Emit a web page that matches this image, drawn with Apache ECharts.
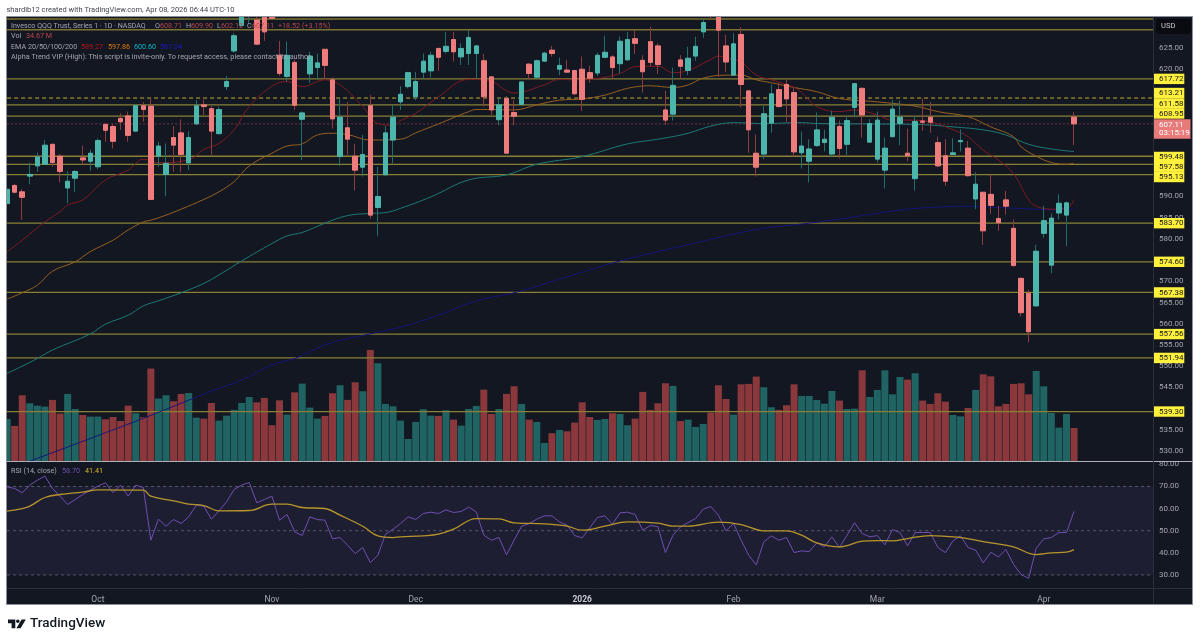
<!DOCTYPE html>
<html>
<head>
<meta charset="utf-8">
<title>QQQ 1D</title>
<script src="https://cdn.jsdelivr.net/npm/echarts@6/dist/echarts.min.js"></script>
<style>
html,body{margin:0;padding:0;background:#fff}
#main{width:1200px;height:642px}
</style>
</head>
<body>
<div id="main"></div>
<script>
// daily bars, Sep 2025 -> Apr 08 2026
var opens = [
588.3,592.6,591.1,594.8,597.2,597.6,602.3,599.5,592.0,594.3,
599.1,598.3,597.0,607.0,606.5,608.4,609.0,605.4,611.4,611.3,
599.5,595.2,603.9,605.0,597.9,607.1,611.6,610.7,604.8,615.9,
624.3,630.3,632.4,631.6,633.2,634.0,623.3,618.3,621.6,608.2,
618.9,620.4,624.7,617.5,599.4,606.2,599.5,596.9,611.4,587.4,
595.1,603.3,612.3,615.9,613.5,619.3,619.6,624.9,624.2,627.0,
622.9,623.7,623.7,622.0,618.2,608.1,613.1,609.8,611.7,621.2,
618.1,621.9,624.5,620.0,619.8,619.7,620.0,619.2,619.1,622.8,
622.9,621.3,622.2,627.2,622.1,626.5,625.5,610.4,609.4,622.2,
619.7,623.1,628.8,636.5,635.0,625.5,618.6,628.2,614.9,600.2,
600.0,607.3,615.2,616.4,614.5,600.3,598.3,602.0,602.7,600.0,
606.5,602.3,611.0,615.5,602.8,598.8,596.2,604.1,607.2,600.2,
594.2,607.8,608.7,602.7,599.6,599.9,602.9,601.4,589.4,591.0,
590.5,584.8,589.2,582.5,570.7,567.2,564.2,581.3,573.8,586.1,
585.6,608.71];
var closes = [
591.7,591.0,589.8,595.2,599.3,602.1,598.0,595.9,593.6,595.9,
598.6,600.2,603.2,605.6,603.0,607.6,604.4,611.4,610.5,589.3,
601.9,597.8,602.1,599.9,603.9,611.4,611.2,605.4,610.5,617.1,
627.9,634.0,634.0,625.9,628.8,632.0,619.0,623.3,611.5,609.7,
623.1,621.5,620.9,608.3,608.7,603.5,596.2,599.9,585.6,590.0,
605.0,608.7,614.1,619.2,617.1,621.9,623.3,622.8,625.4,624.1,
624.9,627.5,625.5,613.5,610.4,611.6,600.2,608.9,617.0,619.0,
622.0,623.8,623.7,620.9,619.3,614.2,612.9,617.9,623.3,624.0,
620.4,626.6,627.0,626.1,619.4,621.6,621.1,608.0,616.2,620.7,
622.6,625.4,631.0,634.0,629.2,621.7,626.0,616.4,605.7,596.9,
609.5,614.2,611.2,613.0,600.5,601.9,601.2,605.7,603.5,608.7,
601.3,607.9,616.6,609.2,607.2,608.0,601.4,610.6,608.7,599.6,
607.7,607.5,607.5,597.2,593.6,600.3,603.2,594.9,592.9,581.9,
587.9,583.8,587.7,573.7,562.6,558.1,577.1,584.3,584.9,588.4,
588.5,607.11];
var highs = [
592.3,592.9,591.7,598.0,600.3,603.3,602.5,600.0,596.0,596.2,
602.0,601.0,603.7,607.2,607.2,609.6,610.0,611.8,612.3,613.1,
602.9,602.5,606.6,608.2,605.4,612.7,612.9,611.3,611.2,618.4,
628.5,634.7,635.5,632.8,634.0,634.7,626.7,626.5,622.2,610.0,
624.1,623.7,624.7,618.1,613.1,612.3,602.4,604.5,613.9,597.0,
606.6,611.6,616.0,619.4,619.4,623.7,624.1,625.1,628.8,628.8,
626.1,629.2,625.7,623.6,618.4,613.4,613.7,612.7,617.1,621.4,
622.3,624.1,625.5,622.7,622.2,619.8,623.0,620.8,623.9,627.9,
623.3,627.7,628.8,629.2,623.3,630.0,626.1,614.9,620.4,623.3,
625.3,627.7,631.8,637.0,637.0,628.1,628.5,629.9,614.9,604.6,
611.3,616.4,616.8,617.5,615.7,605.3,603.5,609.8,605.7,610.2,
607.9,609.0,616.7,615.7,608.2,610.0,603.9,612.7,612.6,606.0,
609.0,613.1,612.3,604.1,603.5,603.7,605.8,603.1,595.7,591.0,
595.1,587.8,591.3,584.6,570.9,568.0,578.6,587.8,586.0,590.5,
588.8,609.90];
var lows = [
588.0,590.7,584.5,592.9,595.8,597.4,597.0,593.3,588.4,591.0,
597.4,596.1,596.4,602.9,601.3,605.7,602.9,605.2,607.6,589.2,
597.0,590.1,595.8,595.7,596.2,606.9,609.2,599.8,604.6,615.1,
623.9,630.0,630.7,625.7,626.7,631.6,618.4,617.1,610.4,598.6,
616.8,617.6,617.8,606.0,597.2,599.8,591.4,594.7,584.8,580.7,
595.0,597.8,610.4,615.5,612.7,617.8,618.1,619.6,623.7,621.8,
621.0,621.0,617.8,611.2,609.2,606.8,600.2,606.8,611.6,617.5,
617.8,621.7,623.0,618.6,619.2,613.9,610.2,616.8,618.4,622.6,
617.7,619.0,622.0,623.6,614.5,620.6,618.9,606.9,607.9,617.8,
618.6,622.0,627.4,631.9,618.2,619.3,618.4,611.0,600.3,594.7,
598.8,605.0,611.0,607.6,599.4,596.6,593.3,601.7,600.6,599.2,
599.0,599.8,608.7,603.9,602.7,598.0,591.9,603.9,602.1,598.3,
591.4,605.5,605.0,597.0,592.5,599.8,600.6,594.7,587.0,578.6,
585.9,581.9,585.7,573.5,561.7,555.6,564.0,580.3,571.9,584.6,
578.3,602.12];
var volumes = [
44.1,36.8,69.0,60.6,58.1,57.1,64.1,49.7,70.4,54.6,
48.3,46.6,46.6,43.8,46.2,42.0,58.1,50.1,45.9,97.0,
65.5,69.0,62.7,70.4,71.4,45.5,44.5,60.9,42.4,47.6,
53.6,60.9,67.2,61.6,66.2,37.5,63.7,48.7,72.1,81.2,
56.0,44.5,47.3,71.1,79.5,64.1,82.6,73.2,116.6,102.6,
59.9,57.4,42.4,23.1,41.0,54.3,47.6,47.3,53.2,43.4,
37.1,54.6,57.8,74.9,49.4,54.6,70.4,78.4,59.9,43.4,
41.0,18.9,29.1,32.6,31.2,40.3,61.6,46.2,43.1,44.1,
50.1,49.4,37.5,44.5,72.5,53.6,60.6,81.6,78.8,42.0,
43.4,35.7,38.9,50.8,79.5,65.1,48.7,80.5,80.9,88.6,
77.4,56.4,53.6,58.5,80.5,68.3,68.3,64.1,60.2,73.5,
63.4,54.6,55.0,95.2,67.2,74.6,95.2,70.0,88.2,85.4,
92.1,63.4,59.9,71.1,62.3,48.3,46.9,55.7,74.6,91.0,
88.9,57.4,59.9,80.9,81.6,70.0,94.5,78.4,50.4,35.0,
49.4,34.67];
var rsiValues = [
69.85,69.09,67.13,70.6,72.86,74.67,69.09,65.62,61.85,64.11,
66.37,68.34,70.15,71.66,67.13,70.6,65.62,70.6,69.54,45.7,
55.2,52.03,55.05,53.24,56.26,61.54,61.09,55.2,58.98,63.05,
68.64,70.6,71.81,62.6,64.11,65.62,54.75,57.32,49.47,47.81,
56.26,55.05,54.75,46.3,46.9,43.43,39.66,42.37,35.58,38.9,
48.41,50.68,53.24,56.26,55.05,57.77,58.37,57.77,59.43,58.22,
58.68,60.64,58.52,47.96,45.7,46.9,39.05,45.7,52.03,53.24,
55.2,56.71,56.71,53.98,52.49,47.81,46.75,51.28,55.96,56.71,
52.94,58.07,58.37,57.32,50.22,52.34,51.88,40.11,47.96,51.73,
53.69,55.5,59.73,60.94,57.01,49.92,53.24,45.7,38.9,34.53,
44.94,47.66,45.7,46.9,40.11,40.86,40.56,44.49,42.68,47.2,
42.37,47.96,53.54,48.71,47.2,47.81,43.58,50.52,49.17,43.13,
49.17,49.17,49.17,42.37,40.11,45.39,47.66,42.37,41.17,35.43,
40.26,38.15,41.47,34.83,30.15,28.49,42.07,46.3,46.9,49.17,
49.17,58.70];

// moving averages: [bar index, value] at the points that could be read
var ema20 = [[0,577.0],[2,579.7],[5,584.0],[7,586.4],[8,588.0],[10,589.2],[13,593.9],[16,596.2],[18,598.8],[20,598.0],[24,598.6],[26,601.1],[28,602.5],[30,605.7],[32,611.2],[35,616.0],[37,617.1],[39,615.9],[42,617.5],[44,616.3],[47,611.2],[49,607.2],[51,606.8],[52,607.9],[54,609.6],[57,613.5],[61,617.6],[64,617.1],[66,614.9],[67,614.4],[71,616.3],[73,617.6],[75,617.5],[78,617.8],[81,619.0],[83,620.6],[86,620.7],[88,619.2],[90,619.7],[93,622.3],[94,623.1],[96,622.2],[97,621.8],[99,618.6],[101,617.5],[104,615.7],[105,614.5],[107,611.2],[110,610.0],[112,610.4],[115,609.2],[117,608.0],[119,608.0],[122,607.6],[125,605.7],[127,604.1],[129,600.9],[131,598.6],[133,595.4],[135,589.2],[136,587.7],[138,587.0],[140,587.2],[141,589.27]];
var ema50 = [[0,565.8],[2,567.3],[4,569.1],[6,572.4],[9,574.6],[11,577.0],[14,579.7],[16,582.1],[18,584.0],[19,584.4],[21,585.6],[23,587.0],[26,589.3],[28,591.1],[30,593.5],[32,597.2],[35,600.2],[37,601.9],[39,602.4],[41,604.5],[43,604.9],[45,604.6],[48,603.3],[52,603.5],[54,605.0],[57,607.1],[61,610.0],[62,610.5],[64,610.5],[67,610.4],[70,611.6],[73,612.7],[76,613.0],[79,613.9],[82,615.5],[85,616.1],[88,615.7],[90,616.3],[92,617.9],[95,618.6],[97,618.6],[99,617.5],[101,616.8],[104,615.7],[107,614.7],[110,613.1],[115,612.3],[120,611.3],[123,610.0],[127,608.8],[130,606.4],[133,604.1],[134,601.7],[136,599.5],[138,598.0],[140,597.6],[141,597.86]];
var ema100 = [[0,548.3],[2,550.0],[4,551.8],[6,553.8],[11,557.6],[13,559.9],[16,562.0],[18,564.2],[20,565.4],[23,567.3],[26,569.5],[28,571.5],[31,574.8],[35,578.9],[37,580.7],[39,581.5],[42,583.7],[45,585.5],[48,586.0],[50,586.2],[52,587.2],[56,589.9],[61,593.9],[66,595.1],[70,597.6],[76,599.4],[82,602.4],[86,603.5],[90,604.9],[93,606.6],[96,607.4],[100,607.2],[105,607.4],[107,607.2],[114,607.1],[120,607.0],[125,606.4],[129,605.7],[132,604.5],[135,602.3],[138,601.2],[141,600.6]];
var ema200 = [[3,527.6],[18,537.7],[27,544.1],[31,546.7],[35,550.3],[38,551.8],[42,555.0],[45,556.5],[48,557.6],[52,559.2],[57,562.0],[62,565.4],[67,567.3],[73,570.5],[81,574.8],[87,577.4],[93,579.9],[97,581.5],[100,582.5],[105,583.5],[109,584.4],[118,586.8],[122,587.4],[127,587.7],[131,587.4],[136,587.0],[139,586.8],[141,587.04]];
var rsiMa = [[0,58.83],[2,60.03],[3,61.09],[5,65.01],[7,66.37],[10,67.43],[12,68.49],[18,68.34],[19,65.62],[22,63.51],[24,62.0],[26,61.39],[28,58.98],[32,59.13],[35,62.0],[37,62.0],[39,60.49],[42,60.03],[44,57.01],[47,52.03],[49,47.66],[51,46.9],[52,47.2],[55,47.66],[57,48.41],[59,50.68],[62,55.5],[65,55.35],[67,53.54],[71,53.09],[74,52.03],[76,50.22],[79,52.03],[82,53.98],[86,53.39],[88,52.03],[90,52.03],[94,53.84],[97,52.79],[100,49.92],[103,49.92],[105,47.96],[107,44.49],[110,42.68],[113,45.24],[115,45.54],[117,45.39],[119,46.45],[122,47.81],[126,46.9],[128,45.7],[130,44.49],[133,42.68],[136,39.2],[138,39.96],[140,40.26],[141,41.41]];

var levelPrices = [617.72,611.58,608.95,599.48,597.58,595.13,583.70,574.60,567.38,557.56,551.94,539.30];
var topLevels = [631.84,629.3];   // no label on the axis
var dashedLevel = 613.21;
var lastPrice = 607.11;
var priceTicks = [625,620,590,585,580,570,565,560,555,550,545,535,530];
var rsiTicks = [80,70,60,50,40,30];
var rsiGuides = [70,50,30];
var monthBars = [12,35,54,76,96,115,137];
var monthNames = ['Oct','Nov','Dec','2026','Feb','Mar','Apr'];

var UP = '#4db6ac', DOWN = '#ef7c7c';
var WICK_UP = '#1f6f6c', WICK_DOWN = '#8f3a3e';
var PANEL = '#131722', SEP = '#2a2e39', AXIS_TXT = '#a3a6af';
var FONT = 'Roboto, sans-serif';

var wicks = [], bodies = [], volBars = [], rsiData = [];
for (var i = 0; i < opens.length; i++) {
  wicks.push([i, opens[i], closes[i], lows[i], highs[i]]);
  bodies.push([i, opens[i], closes[i], Math.min(opens[i], closes[i]), Math.max(opens[i], closes[i])]);
  volBars.push({
    value: [i, volumes[i]],
    itemStyle: {color: closes[i] >= opens[i] ? '#1f6363' : '#8a383c'}
  });
  rsiData.push([i, rsiValues[i]]);
}

function hline(v, color, width, type, z, xi, yi) {
  return {
    type: 'line', xAxisIndex: xi || 0, yAxisIndex: yi || 0, silent: true, symbol: 'none', z: z,
    lineStyle: {color: color, width: width, type: type},
    data: [[0, v], [151.5, v]]
  };
}
function emaLine(data, color) {
  return {
    type: 'line', xAxisIndex: 0, yAxisIndex: 0, silent: true, symbol: 'none', z: 3, smooth: 0.4,
    lineStyle: {color: color, width: 1}, data: data
  };
}

var series = [{
  type: 'bar', xAxisIndex: 0, yAxisIndex: 1, barWidth: 7, silent: true, z: 1, data: volBars
}];
topLevels.forEach(function (v) { series.push(hline(v, '#7d7330', 1.5, 'solid', 2)); });
levelPrices.forEach(function (v) { series.push(hline(v, '#8a8034', 1.3, 'solid', 2)); });
series.push(hline(dashedLevel, '#c4ab2c', 1, [4, 3], 2));
series.push(hline(lastPrice, '#6e3442', 1, [2, 2], 2));
series.push(emaLine(ema200, '#15157a'), emaLine(ema100, '#1b7a76'), emaLine(ema50, '#97601f'), emaLine(ema20, '#7e1a22'));
series.push({
  type: 'candlestick', xAxisIndex: 0, yAxisIndex: 0, barWidth: 1, silent: true, z: 4, data: wicks,
  itemStyle: {color: WICK_UP, color0: WICK_DOWN, borderColor: WICK_UP, borderColor0: WICK_DOWN, borderWidth: 1}
});
series.push({
  type: 'candlestick', xAxisIndex: 0, yAxisIndex: 0, barWidth: 5, silent: true, z: 5, data: bodies,
  itemStyle: {color: UP, color0: DOWN, borderColor: UP, borderColor0: DOWN, borderWidth: 1}
});
// rsi pane
rsiGuides.forEach(function (v) { series.push(hline(v, '#55576a', 1, [3, 3], 2, 1, 2)); });
series.push({
  type: 'line', xAxisIndex: 1, yAxisIndex: 2, silent: true, symbol: 'none', z: 3,
  lineStyle: {color: '#6f4fb0', width: 1}, data: rsiData,
  markArea: {silent: true, z: 1, itemStyle: {color: '#1e1e33'}, data: [[{yAxis: 30}, {yAxis: 70}]]}
});
series.push({
  type: 'line', xAxisIndex: 1, yAxisIndex: 2, silent: true, symbol: 'none', z: 4, smooth: 0.4,
  lineStyle: {color: '#b8952a', width: 1.3}, data: rsiMa
});

var option = {
  animation: false,
  backgroundColor: '#ffffff',
  textStyle: {fontFamily: FONT},
  grid: [
    {left: 7.1, top: 17, width: 1146.4, height: 444},
    {left: 7.1, top: 461.5, width: 1146.4, height: 127}
  ],
  xAxis: [
    {type: 'value', gridIndex: 0, min: 0, max: 151.5, show: false},
    {
      type: 'value', gridIndex: 1, min: 0, max: 151.5,
      axisLine: {show: false}, axisTick: {show: false}, splitLine: {show: false},
      axisLabel: {
        customValues: monthBars, margin: 6.5, color: AXIS_TXT, fontSize: 8.5, fontFamily: FONT,
        formatter: function (v) {
          var n = monthNames[monthBars.indexOf(v)];
          return n === '2026' ? '{b|' + n + '}' : n;
        },
        rich: {b: {fontWeight: 'bold', color: '#c8cad0', fontSize: 8.5, fontFamily: FONT}}
      }
    }
  ],
  yAxis: [
    {
      type: 'value', gridIndex: 0, position: 'right', min: 527.64, max: 632.31,
      axisLine: {show: false}, axisTick: {show: false}, splitLine: {show: false},
      axisLabel: {
        customValues: priceTicks, margin: 5.5, color: AXIS_TXT, fontSize: 8, fontFamily: FONT,
        formatter: function (v) { return v.toFixed(2); }
      }
    },
    {type: 'value', gridIndex: 0, min: 0, max: 466, show: false},
    {
      type: 'value', gridIndex: 1, position: 'right', min: 23.85, max: 81.3,
      axisLine: {show: false}, axisTick: {show: false}, splitLine: {show: false},
      axisLabel: {
        customValues: rsiTicks, margin: 5.5, color: AXIS_TXT, fontSize: 8, fontFamily: FONT,
        formatter: function (v) { return v.toFixed(2); }
      }
    }
  ],
  series: series
};

var chart = echarts.init(document.getElementById('main'));
chart.setOption(option);

// text and furniture around the plot
function txt(x, y, s, fill, size, extra) {
  var st = {x: x, y: y, text: s, fill: fill, font: (extra && extra.weight || 'normal') + ' ' + size + 'px ' + FONT,
            align: extra && extra.align || 'left', verticalAlign: 'middle'};
  return {type: 'text', z: 50, silent: true, style: st};
}
function box(x, y, w, h, fill, z) {
  return {type: 'rect', z: z == null ? 40 : z, silent: true, shape: {x: x, y: y, width: w, height: h}, style: {fill: fill}};
}
function seg(x1, y1, x2, y2, color) {
  return {type: 'line', z: 30, silent: true, shape: {x1: x1, y1: y1, x2: x2, y2: y2}, style: {stroke: color, lineWidth: 1}};
}

var g = [];
g.push({type: 'rect', z: -5, silent: true, shape: {x: 6.5, y: 16.5, width: 1186, height: 588}, style: {fill: PANEL}});
// candlesticks are not clipped by the grid, so mask what pokes out of the pane
g.push(box(0, 0, 1200, 16, '#ffffff', 20), box(0, 0, 6.5, 642, '#ffffff', 20));
g.push({type: 'rect', z: 31, silent: true, shape: {x: 6.5, y: 16.5, width: 1186, height: 588},
        style: {fill: 'none', stroke: '#8c8f98', lineWidth: 1}});
g.push(seg(7, 461.5, 1192, 461.5, '#aeb0b6'));
g.push(seg(7, 588.5, 1192, 588.5, SEP));
g.push(seg(1153.5, 17, 1153.5, 604, SEP));

g.push(txt(6.5, 10, 'shardib12 created with TradingView.com, Apr 08, 2026 06:44 UTC-10', '#434651', 7.5));

var GREY = '#a3a6af', RED = '#b9474b', LEG = 7.2;
g.push(txt(11, 26, 'Invesco QQQ Trust, Series 1 · 1D · NASDAQ', GREY, 7.1));
g.push(txt(155, 26, 'O', GREY, LEG), txt(160, 26, '608.71', RED, LEG));
g.push(txt(186, 26, 'H', GREY, LEG), txt(191, 26, '609.90', RED, LEG));
g.push(txt(217, 26, 'L', GREY, LEG), txt(221, 26, '602.12', RED, LEG));
g.push(txt(247, 26, 'C', GREY, LEG), txt(252, 26, '607.11', RED, LEG));
g.push(txt(278, 26, '+18.52 (+3.15%)', RED, LEG));
g.push(txt(11, 36.5, 'Vol', GREY, LEG), txt(26, 36.5, '34.67 M', RED, LEG));
g.push(txt(11, 47, 'EMA 20/50/100/200', GREY, LEG));
g.push(txt(81, 47, '589.27', '#b8141c', LEG), txt(108, 47, '597.86', '#e07a10', LEG),
       txt(134, 47, '600.60', '#00b8c8', LEG), txt(160, 47, '587.04', '#1a1ac0', LEG));
g.push(txt(11, 57, 'Alpha Trend VIP (High): This script is invite-only. To request access, please contact its author.', GREY, 7.3));
g.push(txt(11, 471.5, 'RSI (14, close)', GREY, LEG), txt(62, 471.5, '58.70', '#6f4fb0', LEG), txt(85, 471.5, '41.41', '#d8b52a', LEG));

// USD button
g.push({type: 'rect', z: 40, silent: true, shape: {x: 1156, y: 19, width: 35, height: 15, r: 2}, style: {fill: '#0a0b10'}});
g.push(txt(1161, 26.5, 'USD', '#c8cad0', 7.6));

// yellow price tags, the crowded ones get pushed apart
var tagNudge = {613.21: -5, 611.58: -1.5, 608.95: -2.6, 599.48: 0.7, 597.58: 2.4, 595.13: 2.3};
levelPrices.concat([dashedLevel]).forEach(function (v) {
  var y = chart.convertToPixel({yAxisIndex: 0}, v) + (tagNudge[v] || 0);
  g.push(box(1154, y - 5.2, 30.3, 10.4, '#fff03c'));
  g.push(txt(1159, y + 0.3, v.toFixed(2), '#131722', 8));
});
// live price tag
g.push(box(1154, 119.3, 36.5, 19.4, '#e87a7a', 41));
g.push(txt(1159, 125, lastPrice.toFixed(2), '#ffffff', 8));
g.push(txt(1159, 133.3, '03:15:19', '#ffffff', 8));

// tradingview wordmark
g.push({type: 'polygon', z: 50, silent: true, shape: {points: [[8, 619.5], [15.3, 619.5], [15.3, 628.2], [11.6, 628.2], [11.6, 623.2], [8, 623.2]]}, style: {fill: '#131722'}});
g.push({type: 'circle', z: 50, silent: true, shape: {cx: 17.8, cy: 621.3, r: 1.8}, style: {fill: '#131722'}});
g.push({type: 'polygon', z: 50, silent: true, shape: {points: [[21.6, 619.5], [25.8, 619.5], [20.6, 628.2], [16.4, 628.2]]}, style: {fill: '#131722'}});
g.push(txt(30, 623.5, 'TradingView', '#131722', 13.5, {weight: '500'}));

chart.setOption({graphic: g});
</script>
</body>
</html>
